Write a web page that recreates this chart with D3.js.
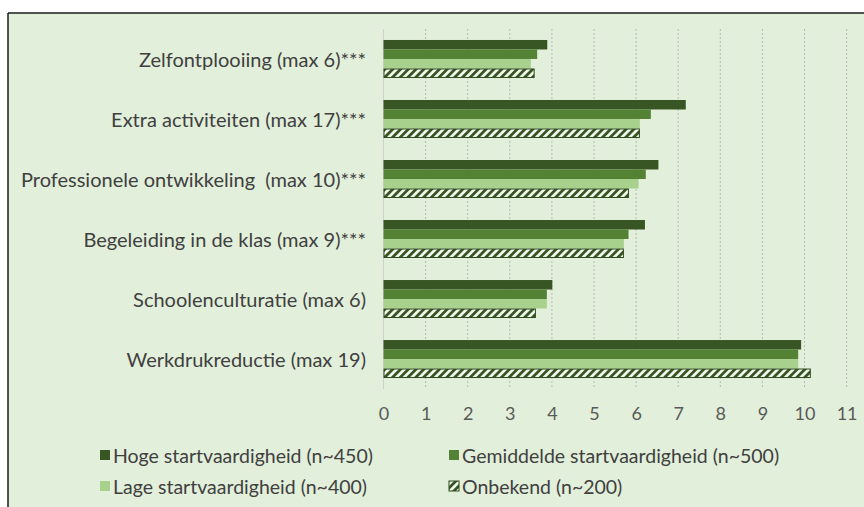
<!DOCTYPE html>
<html><head><meta charset="utf-8">
<script src="https://cdn.jsdelivr.net/npm/d3@7"></script>
<style>
html,body{margin:0;padding:0;background:#fff;overflow:hidden;}
svg{display:block;}
text{font-family:Lato,"Open Sans",sans-serif;}
</style></head>
<body>
<svg id="chart" width="864" height="507"></svg>
<script>
const categories = ["Zelfontplooiing (max 6)***", "Extra activiteiten (max 17)***", "Professionele ontwikkeling  (max 10)***", "Begeleiding in de klas (max 9)***", "Schoolenculturatie (max 6)", "Werkdrukreductie (max 19)"];
const seriesNames = ["Hoge startvaardigheid (n~450)", "Gemiddelde startvaardigheid (n~500)", "Lage startvaardigheid (n~400)", "Onbekend (n~200)"];
const hoge = [3.89, 7.18, 6.53, 6.21, 4.01, 9.92];
const gemiddeld = [3.65, 6.35, 6.23, 5.82, 3.88, 9.85];
const laag = [3.50, 6.09, 6.06, 5.71, 3.88, 9.85];
const onbekend = [3.59, 6.09, 5.83, 5.71, 3.62, 10.15];
const tickValues = [0,1,2,3,4,5,6,7,8,9,10,11];

const series = [hoge, gemiddeld, laag, onbekend];
const colors = ["#375623", "#548235", "#A9D18E", "url(#hatch)"];

const svg = d3.select("#chart");
const defs = svg.append("defs");
const pat = defs.append("pattern").attr("id","hatch").attr("patternUnits","userSpaceOnUse")
  .attr("width",5.5).attr("height",5.5).attr("patternTransform","rotate(45)");
pat.append("rect").attr("width",5.5).attr("height",5.5).attr("fill","#f4f9f0");
pat.append("rect").attr("width",2.8).attr("height",5.5).attr("fill","#375623");

// frame (only top and left edges are inside the picture)
svg.append("rect").attr("x",8).attr("y",13).attr("width",856).attr("height",494).attr("fill","#E2EFDA");
svg.append("line").attr("x1",8).attr("x2",864).attr("y1",13).attr("y2",13).attr("stroke","#1a1a1a").attr("stroke-width",1.5);
svg.append("line").attr("x1",8).attr("x2",8).attr("y1",13).attr("y2",507).attr("stroke","#1a1a1a").attr("stroke-width",1.5);

const x = d3.scaleLinear().domain([0,11]).range([383.5, 846.6]);
const y = d3.scaleBand().domain(categories).range([29, 389]).paddingInner(0.367).paddingOuter(0.183);
const y1 = d3.scaleBand().domain(d3.range(4)).range([0, y.bandwidth()]);

// gridlines
svg.append("g").selectAll("line").data(tickValues.slice(1)).join("line")
  .attr("x1", d=>x(d)).attr("x2", d=>x(d)).attr("y1",29).attr("y2",389)
  .attr("stroke","#b8b8b8").attr("stroke-width",1).attr("stroke-dasharray","2,2");
svg.append("line").attr("x1",x(0)).attr("x2",x(0)).attr("y1",29).attr("y2",389)
  .attr("stroke","#d0d0d0").attr("stroke-width",1);

// bars
const groups = svg.append("g").selectAll("g").data(categories).join("g")
  .attr("transform", c=>`translate(0,${y(c)})`);
groups.each(function(c, ci){
  const g = d3.select(this);
  series.forEach((s, si)=>{
    const r = g.append("rect")
      .attr("x", x(0)).attr("y", y1(si))
      .attr("width", x(s[ci]) - x(0)).attr("height", y1.bandwidth())
      .attr("fill", colors[si]);
    if (si === 3) {
      r.attr("x", x(0)+0.5).attr("y", y1(si)+0.5).attr("width", x(s[ci]) - x(0) - 1)
       .attr("height", y1.bandwidth()-1).attr("stroke","#2f4a1e").attr("stroke-width",1);
    }
  });
});

// category labels
svg.append("g").selectAll("text").data(categories).join("text")
  .attr("x", 366).attr("y", c=>y(c)+y.bandwidth()/2)
  .attr("text-anchor","end").attr("dominant-baseline","central")
  .style("white-space","pre")
  .attr("font-size",20).attr("fill","#404040").text(c=>c);

// x axis
const xAxis = d3.axisBottom(x).tickValues(tickValues).tickSize(0).tickPadding(0);
const ax = svg.append("g").attr("transform","translate(0,407)").call(xAxis);
ax.select(".domain").remove();
ax.selectAll("text").attr("font-size",18).attr("fill","#595959").attr("font-family","Lato");

// legend
const legPos = [[100,455],[449,455],[100,486],[449,486]];
const lg = svg.append("g").selectAll("g").data(seriesNames).join("g")
  .attr("transform",(d,i)=>`translate(${legPos[i][0]},${legPos[i][1]})`);
lg.append("rect").attr("x",0).attr("y",-5).attr("width",10).attr("height",10)
  .attr("fill",(d,i)=>colors[i]).attr("stroke",(d,i)=>i===3?"#2f4a1e":"none");
lg.append("text").attr("x",13).attr("y",0).attr("dominant-baseline","central")
  .attr("font-size",19.5).attr("fill","#404040").text(d=>d);
</script>
</body></html>
